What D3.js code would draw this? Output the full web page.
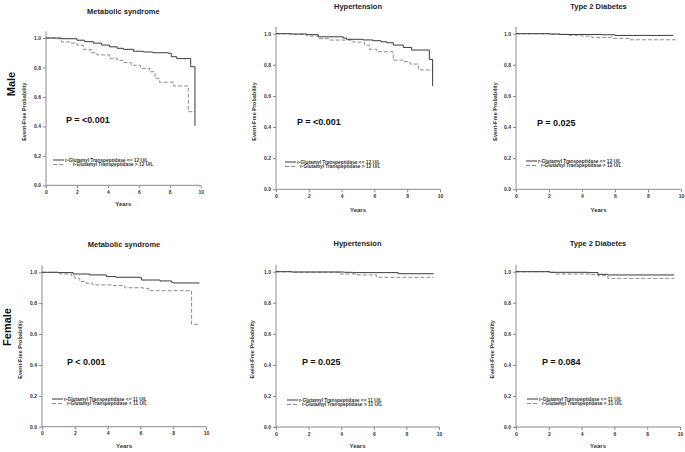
<!DOCTYPE html>
<html><head><meta charset="utf-8">
<script src="https://cdn.jsdelivr.net/npm/d3@7"></script>
<style>
html,body{margin:0;padding:0;background:#fff;}
text{font-family:"Liberation Sans",Arial,sans-serif;font-weight:bold;}
</style></head>
<body>
<svg id="c" width="685" height="452"></svg>
<script>
// ---- data (time in years, event-free probability) ----
const yTicks = [0, 0.2, 0.4, 0.6, 0.8, 1.0];
const xTicks = [0, 2, 4, 6, 8, 10];
const titles = ["Metabolic syndrome", "Hypertension", "Type 2 Diabetes"];
const sexLabels = ["Male", "Female"];
const pLabels = ["P = <0.001", "P = <0.001", "P = 0.025", "P < 0.001", "P = 0.025", "P = 0.084"];
const maleLegend = ["r-Glutamyl Transpeptidase <= 12 U/L", "  r-Glutamyl Transpeptidase > 12 U/L"];
const femaleLegend = ["r-Glutamyl Transpeptidase <= 11 U/L", "  r-Glutamyl Transpeptidase > 11 U/L"];

const maleMetsLow = [[0,1],[1.0,0.995],[2.0,0.985],[2.5,0.975],[3.06,0.965],[3.6,0.952],[4.1,0.94],[4.6,0.93],[5.0,0.923],[5.65,0.91],[6.3,0.905],[6.9,0.9],[7.9,0.896],[8.1,0.873],[8.45,0.86],[9.35,0.805],[9.63,0.403]];
const maleMetsHigh = [[0,1],[0.58,0.995],[1.0,0.973],[1.6,0.965],[2.0,0.952],[2.4,0.923],[2.9,0.9],[3.3,0.885],[4.1,0.862],[4.6,0.848],[5.0,0.833],[5.5,0.815],[6.1,0.794],[6.7,0.771],[7.05,0.726],[7.33,0.70],[8.25,0.674],[9.2,0.50],[9.63,0.50]];
const maleHtLow = [[0,1],[0.95,0.998],[1.87,0.994],[2.58,0.98],[4.1,0.972],[4.3,0.964],[5.3,0.96],[5.9,0.955],[6.4,0.948],[6.75,0.942],[7.15,0.927],[7.76,0.912],[8.27,0.895],[9.35,0.835],[9.55,0.664]];
const maleHtHigh = [[0,1],[0.85,0.996],[1.87,0.985],[2.58,0.968],[3.3,0.959],[4.7,0.946],[5.4,0.927],[5.7,0.90],[6.14,0.884],[7.15,0.83],[7.76,0.82],[8.17,0.805],[8.68,0.767],[9.55,0.767]];
const maleT2dLow = [[0,1],[2.0,0.998],[2.67,0.995],[5.2,0.993],[6.0,0.989],[9.54,0.989]];
const maleT2dHigh = [[0,1],[2.0,0.996],[3.2,0.99],[4.0,0.984],[4.6,0.976],[5.8,0.97],[6.9,0.961],[9.8,0.961]];
const femaleMetsLow = [[0,1],[0.98,0.998],[1.9,0.989],[2.9,0.983],[3.93,0.972],[4.5,0.968],[5.97,0.965],[6.07,0.95],[7.2,0.944],[7.9,0.935],[8.0,0.931],[9.6,0.931]];
const femaleMetsHigh = [[0,1],[1.08,0.989],[1.8,0.978],[2.0,0.961],[2.3,0.94],[2.7,0.929],[3.1,0.918],[4.34,0.914],[5.05,0.90],[6.17,0.896],[6.48,0.881],[9.12,0.663],[9.6,0.663]];
const femaleHtLow = [[0,1],[0.96,0.998],[4.2,0.996],[4.7,0.994],[7.5,0.987],[9.67,0.987]];
const femaleHtHigh = [[0,1],[0.96,0.997],[3.9,0.985],[5.0,0.979],[6.16,0.964],[9.67,0.964]];
const femaleT2dLow = [[0,1],[2.06,0.996],[4.4,0.994],[5.0,0.983],[5.6,0.979],[9.65,0.979]];
const femaleT2dHigh = [[0,1],[2.06,0.996],[2.36,0.985],[4.6,0.981],[5.0,0.974],[5.6,0.957],[9.65,0.957]];

const seriesLow = [maleMetsLow, maleHtLow, maleT2dLow, femaleMetsLow, femaleHtLow, femaleT2dLow];
const seriesHigh = [maleMetsHigh, maleHtHigh, maleT2dHigh, femaleMetsHigh, femaleHtHigh, femaleT2dHigh];

// ---- layout ----
const panels = [
  {x0:46, x10:200.7, y1:38, y0:185.3, titleY:14, ylabX:26, yearsY:206, pX:66, pY:123, legX:53, legY:160, legDx2:8},
  {x0:276, x10:440, y1:33.7, y0:189.3, titleY:9, ylabX:256, yearsY:212, pX:297, pY:125, legX:285, legY:162, legDx2:3},
  {x0:516, x10:681, y1:33.7, y0:189.3, titleY:9, ylabX:497, yearsY:212, pX:537, pY:126, legX:526, legY:161, legDx2:3},
  {x0:42, x10:206, y1:272.3, y0:426.7, titleY:247, ylabX:22, yearsY:448, pX:67, pY:365, legX:52, legY:399, legDx2:3},
  {x0:276, x10:439, y1:271.7, y0:427, titleY:246, ylabX:254, yearsY:448, pX:302, pY:365, legX:287, legY:400, legDx2:3},
  {x0:516, x10:680, y1:271.7, y0:427, titleY:246, ylabX:494, yearsY:448, pX:542, pY:365, legX:527, legY:399, legDx2:3}
];

const svg = d3.select("#c");
const axisCol = "#8a8a8a";

panels.forEach((p, i) => {
  const x = d3.scaleLinear().domain([0, 10]).range([p.x0, p.x10]);
  const y = d3.scaleLinear().domain([0, 1]).range([p.y0, p.y1]);
  const g = svg.append("g");

  // title
  g.append("text").attr("x", (p.x0 + p.x10) / 2).attr("y", p.titleY)
    .attr("text-anchor", "middle").attr("font-size", 7.5).attr("fill", "#222").text(titles[i % 3]);

  // axes
  const ya = g.append("g").attr("transform", `translate(${p.x0},0)`)
    .call(d3.axisLeft(y).tickValues(yTicks).tickFormat(d3.format(".1f")).tickSize(3).tickPadding(2));
  const xa = g.append("g").attr("transform", `translate(0,${p.y0})`)
    .call(d3.axisBottom(x).tickValues(xTicks).tickFormat(d3.format("d")).tickSize(3).tickPadding(2));
  [ya, xa].forEach(a => {
    a.select(".domain").remove();
    a.selectAll(".tick line").attr("stroke", axisCol);
    a.selectAll(".tick text").attr("font-size", 5).attr("fill", "#333")
      .attr("font-family", "Liberation Sans, Arial, sans-serif").attr("font-weight", "bold");
  });
  g.append("line").attr("x1", p.x0).attr("x2", p.x0).attr("y1", y(0)).attr("y2", y(1.045))
    .attr("stroke", axisCol).attr("stroke-width", 1);
  g.append("line").attr("x1", p.x0).attr("x2", x(10)).attr("y1", y(0)).attr("y2", y(0))
    .attr("stroke", axisCol).attr("stroke-width", 1);

  // axis labels
  g.append("text").attr("transform", `translate(${p.ylabX},${(p.y0 + p.y1) / 2}) rotate(-90)`)
    .attr("text-anchor", "middle").attr("font-size", 5.5).attr("fill", "#333").text("Event-Free Probability");
  g.append("text").attr("x", (p.x0 + p.x10) / 2).attr("y", p.yearsY)
    .attr("text-anchor", "middle").attr("font-size", 6).attr("fill", "#333").text("Years");

  // curves
  const line = d3.line().x(d => x(d[0])).y(d => y(d[1])).curve(d3.curveStepAfter);
  g.append("path").datum(seriesHigh[i]).attr("d", line).attr("fill", "none")
    .attr("stroke", "#8c8c8c").attr("stroke-width", 1).attr("stroke-dasharray", "4,2");
  g.append("path").datum(seriesLow[i]).attr("d", line).attr("fill", "none")
    .attr("stroke", "#3a3a3a").attr("stroke-width", 1);

  // p value
  g.append("text").attr("x", p.pX).attr("y", p.pY).attr("font-size", 9).attr("fill", "#111").text(pLabels[i]);

  // legend
  const leg = i < 3 ? maleLegend : femaleLegend;
  g.append("line").attr("x1", p.legX).attr("x2", p.legX + 11).attr("y1", p.legY).attr("y2", p.legY)
    .attr("stroke", "#3a3a3a").attr("stroke-width", 1);
  g.append("line").attr("x1", p.legX).attr("x2", p.legX + 11).attr("y1", p.legY + 4.5).attr("y2", p.legY + 4.5)
    .attr("stroke", "#8c8c8c").attr("stroke-width", 1).attr("stroke-dasharray", "4,2");
  g.append("text").attr("x", p.legX + 12).attr("y", p.legY + 1.7).attr("font-size", 4.8).attr("fill", "#333")
    .text(leg[0].trim());
  g.append("text").attr("x", p.legX + 12 + p.legDx2).attr("y", p.legY + 6.2).attr("font-size", 4.8).attr("fill", "#333")
    .text(leg[1].trim());
});

// sex labels
svg.append("text").attr("transform", "translate(15,84) rotate(-90)").attr("text-anchor", "middle")
  .attr("font-size", 11).attr("fill", "#111").text(sexLabels[0]);
svg.append("text").attr("transform", "translate(11,327) rotate(-90)").attr("text-anchor", "middle")
  .attr("font-size", 11).attr("fill", "#111").text(sexLabels[1]);
</script>
</body></html>
